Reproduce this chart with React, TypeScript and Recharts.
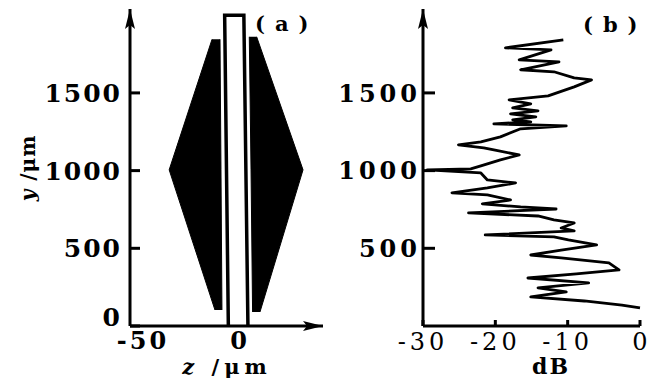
import React from 'react';
import { Area, ComposedChart, Line, XAxis, YAxis } from 'recharts';

const FONT = '"DejaVu Serif", serif';

// panel (a): waveguide outline and the two diamond lobes, y and z in μm
const yTicksA = [0, 500, 1000, 1500];
const zTicks = [-50, 0];

const leftLobeY = [103, 1005, 1845];
const leftLobeZ = [[-12.9, -9.3], [-36.5, -9.8], [-14.4, -10.3]];
const rightLobeY = [90, 1005, 1861];
const rightLobeZ = [[6.5, 10.3], [5.7, 32.5], [4.8, 8.6]];

const guideY = [0, 2000, 2000, 0];
const guideZ = [-6, -7.9, 2.0, 4.1];

// panel (b): loss trace along the guide, dB vs y
const yTicksB = [500, 1000, 1500];
const dbTicks = [-30, -20, -10, 0];

const traceY = [
  1842, 1790, 1777, 1713, 1700, 1649, 1636, 1597, 1584, 1539, 1481, 1455, 1430, 1404, 1385, 1365,
  1346, 1327, 1314, 1301, 1288, 1269, 1217, 1185, 1166, 1146, 1133, 1101, 1069, 1030, 1011, 1005,
  985, 940, 921, 889, 857, 844, 811, 786, 766, 753, 728, 708, 683, 663, 631, 612, 586, 573, 554,
  522, 489, 457, 438, 406, 361, 335, 309, 277, 245, 219, 187, 161, 135, 116,
];
const traceDb = [
  -10.6, -18.6, -12.3, -16.7, -11.2, -16.5, -11.9, -9.1, -6.7, -9.1, -12.7, -18.1, -15.1, -17.6,
  -14.1, -17.9, -14.4, -17.6, -15.1, -20.2, -10.2, -16.5, -19.3, -22.0, -25.1, -21.6, -20.2, -16.7,
  -19.3, -22.0, -23.4, -29.4, -22.0, -21.1, -17.2, -21.1, -26.0, -21.1, -17.9, -21.8, -16.5, -11.6,
  -23.7, -14.1, -11.9, -9.1, -10.9, -9.1, -21.4, -11.9, -9.9, -6.0, -10.9, -15.1, -10.9, -4.3,
  -2.9, -8.8, -15.5, -7.1, -14.1, -10.2, -15.1, -7.7, -2.5, 0,
];

const leftLobe = leftLobeY.map((y, i) => ({ y, z: leftLobeZ[i] }));
const rightLobe = rightLobeY.map((y, i) => ({ y, z: rightLobeZ[i] }));
const guide = guideY.map((y, i) => ({ y, z: guideZ[i] }));
const trace = traceY.map((y, i) => ({ y, db: traceDb[i] }));

const axisA = { stroke: '#000', strokeWidth: 3 };

const yTickA = (p: any) => (
  <text
    x={p.x}
    y={p.y + (p.payload.value === 0 ? -9 : 0)}
    dy="0.36em"
    textAnchor="end"
    fontFamily={FONT}
    fontWeight="bold"
    fontSize={25}
    letterSpacing={2}
    fill="#000"
  >
    {p.payload.value}
  </text>
);

const xTickA = (p: any) => (
  <text x={p.x} y={p.y} dy="0.72em" textAnchor="middle" fontFamily={FONT} fontWeight="bold"
    fontSize={24} letterSpacing={3} fill="#000">
    {p.payload.value}
  </text>
);

const yTickB = (p: any) => (
  <text x={p.x} y={p.y} dy="0.36em" textAnchor="end" fontFamily={FONT} fontWeight="bold"
    fontSize={24} letterSpacing={4} fill="#000">
    {p.payload.value}
  </text>
);

const xTickB = (p: any) => (
  <text x={p.x} y={p.y} dy="0.72em" textAnchor="middle" fontFamily={FONT}
    fontSize={24} letterSpacing={p.payload.value === 0 ? 0 : 4} fill="#000">
    {p.payload.value}
  </text>
);

export default function App() {
  return (
    <div style={{ position: 'absolute', left: 0, top: 0, width: 648, height: 380, background: '#fff' }}>
      <svg width={0} height={0} style={{ position: 'absolute' }}>
        <defs>
          <marker id="arrowHead" viewBox="0 0 20 10" refX={20} refY={5} markerWidth={20} markerHeight={10}
            markerUnits="userSpaceOnUse" orient="auto-start-reverse">
            <path d="M0,0 L20,5 L0,10 L4,5 Z" fill="#000" />
          </marker>
        </defs>
      </svg>

      <div style={{ position: 'absolute', left: 0, top: 0 }}>
        <ComposedChart width={330} height={380} layout="vertical" margin={{ top: 9, right: 7, bottom: 0, left: 0 }}>
          <XAxis type="number" dataKey="z" domain={[-56.7, 42.8]} ticks={zTicks} height={54}
            axisLine={{ ...axisA, markerEnd: 'url(#arrowHead)' }} tickLine={false} tickSize={0} tickMargin={6}
            tick={xTickA} interval={0} />
          <YAxis type="number" dataKey="y" domain={[0, 2040]} ticks={yTicksA} width={130} reversed
            axisLine={{ ...axisA, markerStart: 'url(#arrowHead)' }} tickLine={{ stroke: '#000', strokeWidth: 3 }}
            tickSize={-10} tickMargin={18} tick={yTickA} interval={0} />
          <Area data={leftLobe} dataKey="z" type="linear" fill="#000" fillOpacity={1} stroke="#000"
            strokeWidth={1} isAnimationActive={false} />
          <Area data={rightLobe} dataKey="z" type="linear" fill="#000" fillOpacity={1} stroke="#000"
            strokeWidth={1} isAnimationActive={false} />
          <Line data={guide} dataKey="z" type="linear" stroke="#000" strokeWidth={3.5} dot={false}
            isAnimationActive={false} />
        </ComposedChart>
      </div>

      <div style={{ position: 'absolute', left: 330, top: 0 }}>
        <ComposedChart width={318} height={380} layout="vertical" margin={{ top: 9, right: 8, bottom: 0, left: 0 }}>
          <XAxis type="number" dataKey="db" domain={[-30, 0]} ticks={dbTicks} height={54}
            axisLine={axisA} tickLine={{ stroke: '#000', strokeWidth: 3 }} tickSize={-6} tickMargin={13}
            tick={xTickB} interval={0} />
          <YAxis type="number" dataKey="y" domain={[0, 2040]} ticks={yTicksB} width={93} reversed
            axisLine={{ ...axisA, markerStart: 'url(#arrowHead)' }} tickLine={{ stroke: '#000', strokeWidth: 3 }}
            tickSize={-12} tickMargin={14} tick={yTickB} interval={0} />
          <Line data={trace} dataKey="db" type="linear" stroke="#000" strokeWidth={2.8} strokeLinejoin="round"
            dot={false} isAnimationActive={false} />
        </ComposedChart>
      </div>

      <svg width={648} height={380} style={{ position: 'absolute', left: 0, top: 0, pointerEvents: 'none' }}>
        <g fontFamily={FONT} fontWeight="bold" fill="#000">
          <text x={255} y={31} fontSize={21} letterSpacing={10}>(a)</text>
          <text x={583} y={32} fontSize={21} letterSpacing={10}>(b)</text>
          <text x={227} y={374} fontSize={21} letterSpacing={5} textAnchor="middle">
            <tspan fontStyle="italic">z</tspan> /μm
          </text>
          <text x={551} y={374} fontSize={22} letterSpacing={2} textAnchor="middle">dB</text>
          <text x={35} y={168} fontSize={20} letterSpacing={1} textAnchor="middle" transform="rotate(-90 35 168)">
            <tspan fontStyle="italic">y</tspan> /μm
          </text>
        </g>
      </svg>
    </div>
  );
}
